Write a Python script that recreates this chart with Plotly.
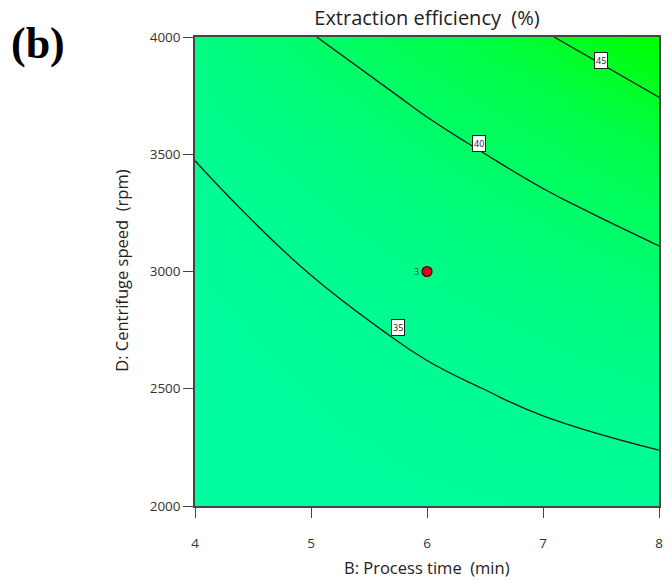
import plotly.graph_objects as go

process_time = [4, 5, 6, 7, 8]                 # B (min)
centrifuge_speed = [2000, 2250, 2500, 2750, 3000, 3250, 3500, 3750, 4000]  # D (rpm)
efficiency = [
    [32.96, 33.23, 33.49, 33.76, 34.02],   # D = 2000
    [32.86, 33.41, 33.96, 34.50, 35.05],   # D = 2250
    [32.94, 33.77, 34.60, 35.43, 36.26],   # D = 2500
    [33.20, 34.32, 35.43, 36.54, 37.65],   # D = 2750
    [33.65, 35.05, 36.44, 37.84, 39.23],   # D = 3000
    [34.28, 35.96, 37.63, 39.31, 40.99],   # D = 3250
    [35.09, 37.05, 39.01, 40.97, 42.93],   # D = 3500
    [36.09, 38.33, 40.57, 42.78, 45.06],   # D = 3750
    [37.26, 39.88, 42.31, 44.75, 47.36],   # D = 4000
]
contour_levels = [35, 40, 45]
label_B = [5.75, 6.45, 7.5]
label_D = [2760, 3545, 3898]
design_B = [6]
design_D = [3000]
design_count = ["3"]
x_ticks = [4, 5, 6, 7, 8]
y_ticks = [2000, 2500, 3000, 3500, 4000]

fig = go.Figure()
fig.add_trace(go.Contour(
    x=process_time, y=centrifuge_speed, z=efficiency,
    zmin=32.9, zmax=47.4,
    colorscale=[[0, "rgb(0,252,160)"], [0.3, "rgb(0,252,130)"],
                [0.7, "rgb(0,253,70)"], [1, "rgb(0,255,0)"]],
    contours=dict(start=contour_levels[0], end=contour_levels[-1], size=5,
                  coloring="heatmap", showlines=True),
    line=dict(color="#1a1a1a", width=1.3, smoothing=1.3),
    showscale=False, hoverinfo="skip",
))
fig.add_trace(go.Scatter(
    x=design_B, y=design_D, mode="markers",
    marker=dict(color="#e0001a", size=10, line=dict(color="#3a0000", width=1.2)),
    hoverinfo="skip", showlegend=False,
))

for b, d, lv in zip(label_B, label_D, contour_levels):
    fig.add_annotation(x=b, y=d, text=str(lv), showarrow=False,
                       font=dict(family="Open Sans", size=9, color="#222"),
                       bgcolor="white", bordercolor="#222", borderwidth=1, borderpad=1)
for b, d, t in zip(design_B, design_D, design_count):
    fig.add_annotation(x=b, y=d, text=t, showarrow=False, xshift=-11, yshift=0,
                       font=dict(family="Open Sans", size=9, color="#1e5a2e"))

fig.add_annotation(xref="paper", yref="paper", x=0.5, y=-0.132, text="B: Process time  (min)",
                   showarrow=False, font=dict(family="Open Sans", size=16.5, color="#222"),
                   xanchor="center", yanchor="middle")
fig.add_annotation(xref="paper", yref="paper", x=-0.160, y=0.501, text="D: Centrifuge speed  (rpm)",
                   showarrow=False, textangle=-90, font=dict(family="Open Sans", size=16.5, color="#222"),
                   xanchor="center", yanchor="middle")
fig.add_annotation(xref="paper", yref="paper", x=-0.338, y=0.987, text="<b>(b)</b>",
                   showarrow=False, font=dict(family="Liberation Serif", size=44, color="black"),
                   xanchor="center", yanchor="middle")

fig.update_layout(
    width=670, height=582,
    margin=dict(l=195, r=7, t=37, b=76),
    paper_bgcolor="white", plot_bgcolor="white",
    title=dict(text="Extraction efficiency  (%)", x=0.5, xref="paper", xanchor="center",
               y=1 - 18 / 582, yanchor="middle",
               font=dict(family="Open Sans", size=20, color="#222")),
    showlegend=False,
)
axis_common = dict(showline=True, linecolor="#444", linewidth=1.5, mirror=True,
                   ticks="outside", ticklen=10, tickcolor="#444", tickwidth=1.3,
                   showgrid=False, zeroline=False,
                   tickfont=dict(family="Open Sans", size=13.5, color="#333"))
fig.update_xaxes(range=[4, 8], tickvals=x_ticks, ticklabelstandoff=14, **axis_common)
fig.update_yaxes(range=[2000, 4000], tickvals=y_ticks, **axis_common)

fig.write_html("out.html")
